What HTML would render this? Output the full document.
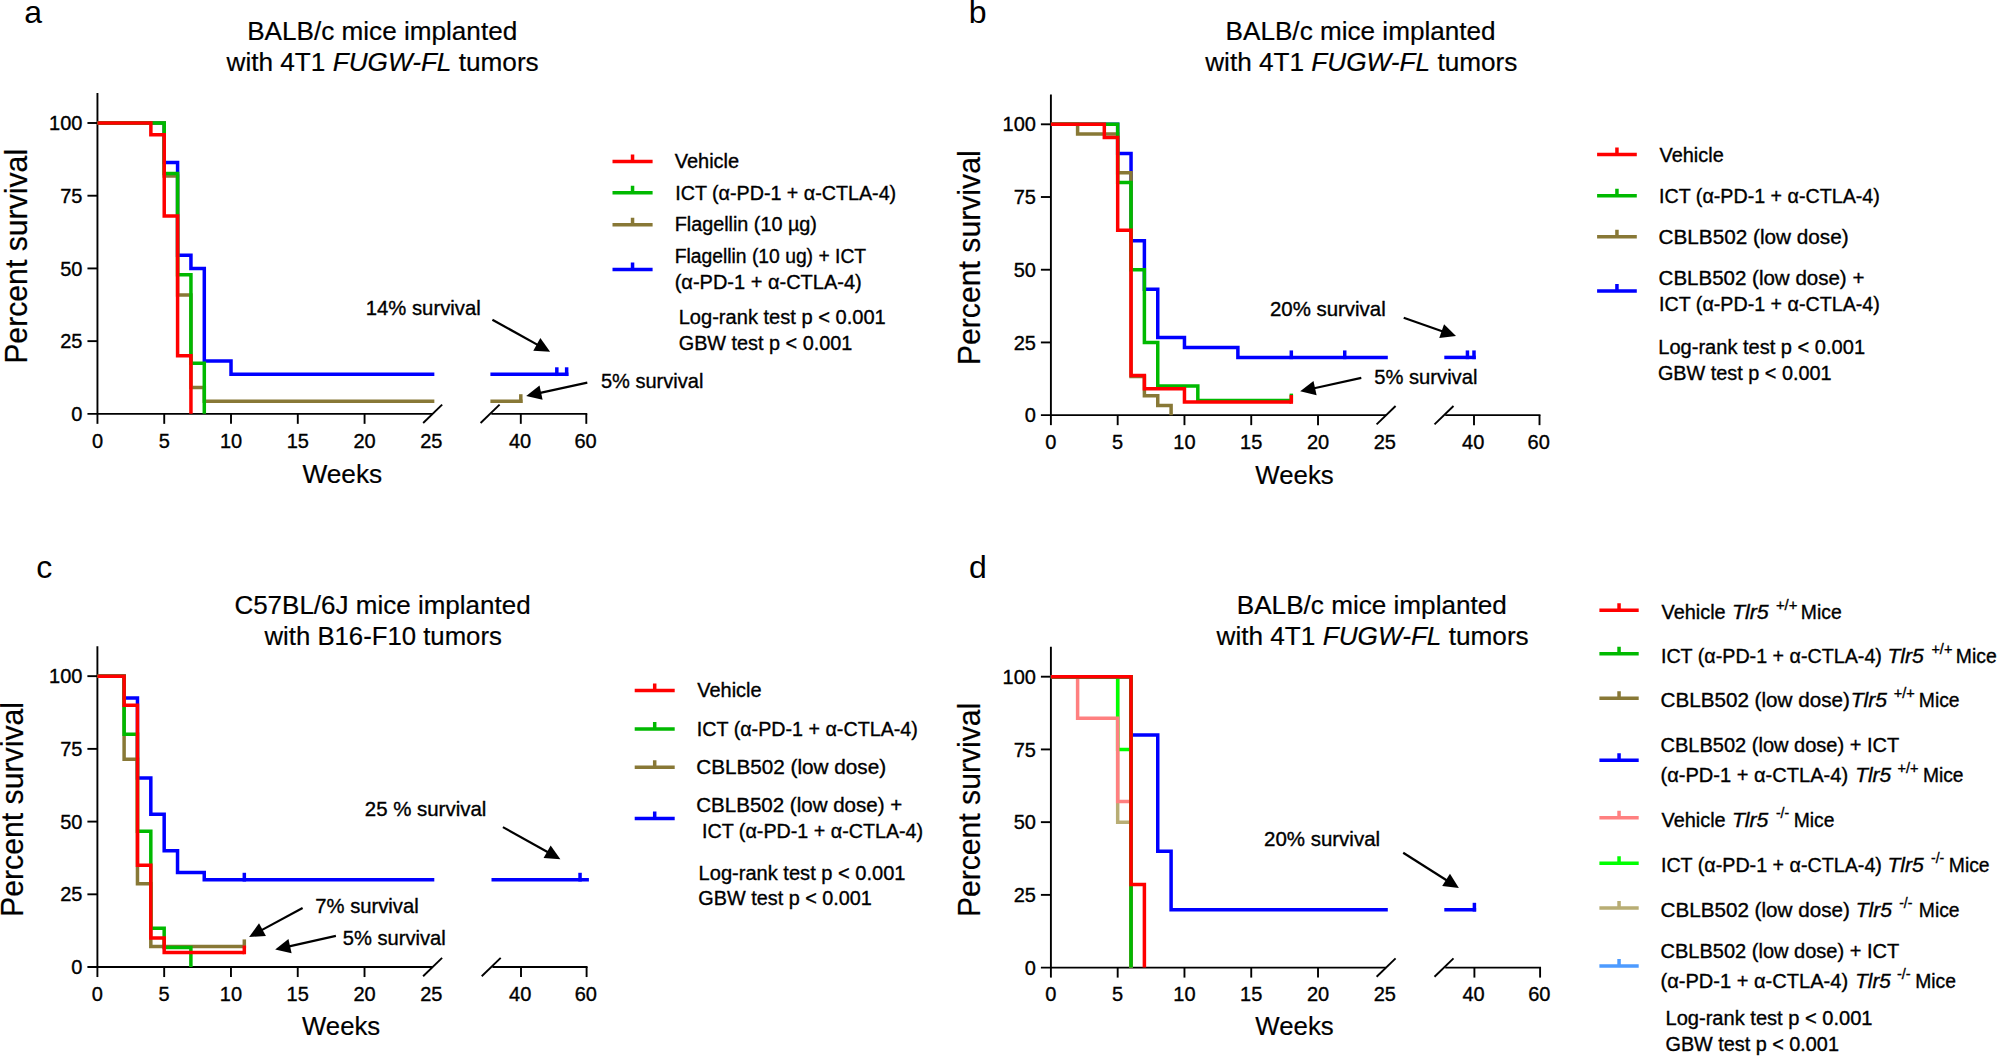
<!DOCTYPE html>
<html lang="en">
<head>
<meta charset="utf-8">
<title>Survival curves</title>
<style>
html,body{margin:0;padding:0;background:#fff;}
body{width:1997px;height:1057px;overflow:hidden;}
svg{display:block;font-family:"Liberation Sans",sans-serif;fill:#000;}
text{stroke:#000;stroke-width:0.35px;}
.tt,.xl,.yl{stroke-width:0.2px;}
.pl{stroke-width:0;}
.ax{stroke:#000;stroke-width:1.9;fill:none;stroke-linecap:butt;}
.cv{stroke-width:3.5;fill:none;stroke-linejoin:miter;stroke-linecap:butt;}
.tk{font-size:20px;}
.tt{font-size:25.9px;}
.xl{font-size:26.4px;}
.yl{font-size:32px;}
.pl{font-size:32px;}
.an{font-size:20.3px;}
.lg{font-size:20px;}
.sup{font-size:14.5px;}
.it{font-style:italic;}
</style>
</head>
<body>
<svg width="1997" height="1057" viewBox="0 0 1997 1057">
<rect x="0" y="0" width="1997" height="1057" fill="#fff"/>
<path d="M97.45 93.11V413.85" class="ax"/>
<path d="M87.45 413.85H432.65" class="ax"/>
<path d="M491.3 413.85H587.25" class="ax"/>
<path d="M87.45 341.14H97.45" class="ax"/>
<path d="M87.45 268.43H97.45" class="ax"/>
<path d="M87.45 195.71H97.45" class="ax"/>
<path d="M87.45 123H97.45" class="ax"/>
<text x="82.45" y="420.95" class="tk" text-anchor="end">0</text>
<text x="82.45" y="348.24" class="tk" text-anchor="end">25</text>
<text x="82.45" y="275.53" class="tk" text-anchor="end">50</text>
<text x="82.45" y="202.81" class="tk" text-anchor="end">75</text>
<text x="82.45" y="130.1" class="tk" text-anchor="end">100</text>
<path d="M97.45 413.85v10" class="ax"/>
<path d="M164.23 413.85v10" class="ax"/>
<path d="M231.01 413.85v10" class="ax"/>
<path d="M297.79 413.85v10" class="ax"/>
<path d="M364.57 413.85v10" class="ax"/>
<text x="97.45" y="447.65" class="tk" text-anchor="middle">0</text>
<text x="164.23" y="447.65" class="tk" text-anchor="middle">5</text>
<text x="231.01" y="447.65" class="tk" text-anchor="middle">10</text>
<text x="297.79" y="447.65" class="tk" text-anchor="middle">15</text>
<text x="364.57" y="447.65" class="tk" text-anchor="middle">20</text>
<text x="431.35" y="447.65" class="tk" text-anchor="middle">25</text>
<path d="M520.8 413.85v10" class="ax"/>
<text x="520" y="447.65" class="tk" text-anchor="middle">40</text>
<path d="M586.3 413.85v10" class="ax"/>
<text x="585.5" y="447.65" class="tk" text-anchor="middle">60</text>
<path d="M423.15 423.05L442.15 404.65" class="ax"/>
<path d="M480.6 423.05L499.6 404.65" class="ax"/>
<path d="M97.45 123H164.23V162.56H177.59V255.34H190.94V268.43H204.3V360.92H231.01V374.29H434.35" stroke="#0000ff" class="cv"/>
<path d="M490.4 374.29H568.4" stroke="#0000ff" class="cv"/>
<path d="M556.82 376.04v-8.75" stroke="#0000ff" class="cv"/>
<path d="M566.65 376.04v-8.75" stroke="#0000ff" class="cv"/>
<path d="M97.45 123H164.23V175.93H177.59V294.89H190.94V387.38H204.3V401.2H434.35" stroke="#887836" class="cv"/>
<path d="M490.4 401.2H522.55" stroke="#887836" class="cv"/>
<path d="M520.8 402.95v-8.75" stroke="#887836" class="cv"/>
<path d="M97.45 123H164.23V173.61H177.59V274.82H190.94V363.24H204.3V413.85" stroke="#00b900" class="cv"/>
<path d="M97.45 123H150.87V134.63H164.23V216.07H177.59V355.68H190.94V413.85" stroke="#ff0000" class="cv"/>
<text x="24.3" y="22.6" class="pl">a</text>
<text x="247.18" y="39.9" class="tt" textLength="270.03" lengthAdjust="spacingAndGlyphs">BALB/c mice implanted</text>
<text x="226.5" y="70.8" class="tt" textLength="312.2" lengthAdjust="spacingAndGlyphs">with 4T1 <tspan class="it">FUGW-FL</tspan> tumors</text>
<text transform="translate(26.5 363.79) rotate(-90)" class="yl" textLength="214.88" lengthAdjust="spacingAndGlyphs">Percent survival</text>
<text x="302.4" y="482.8" class="xl" textLength="79.79" lengthAdjust="spacingAndGlyphs">Weeks</text>
<text x="365.8" y="315.3" class="an" textLength="114.9" lengthAdjust="spacingAndGlyphs">14% survival</text>
<text x="600.9" y="388.3" class="an" textLength="102.5" lengthAdjust="spacingAndGlyphs">5% survival</text>
<path d="M492.4 319.7L538.56 345.38" stroke="#000" stroke-width="2.2" fill="none"/>
<path d="M550.1 351.8L533.29 350.75L540.34 338.07Z" fill="#000"/>
<path d="M587.3 382.7L539.1 393.11" stroke="#000" stroke-width="2.2" fill="none"/>
<path d="M526.2 395.9L539.53 385.6L542.59 399.78Z" fill="#000"/>
<path d="M612.5 161.5H652.6M632.55 163.25v-8.75" stroke="#ff0000" class="cv"/>
<path d="M612.5 192.7H652.6M632.55 194.45v-8.75" stroke="#00b900" class="cv"/>
<path d="M612.5 224.7H652.6M632.55 226.45v-8.75" stroke="#887836" class="cv"/>
<path d="M612.5 269.4H652.6M632.55 271.15v-8.75" stroke="#0000ff" class="cv"/>
<text x="674.7" y="168.1" class="lg" textLength="64.42" lengthAdjust="spacingAndGlyphs">Vehicle</text>
<text x="675.22" y="199.6" class="lg" textLength="220.93" lengthAdjust="spacingAndGlyphs">ICT (α-PD-1 + α-CTLA-4)</text>
<text x="674.71" y="231.3" class="lg" textLength="142.24" lengthAdjust="spacingAndGlyphs">Flagellin (10 µg)</text>
<text x="674.74" y="262.9" class="lg" textLength="191.37" lengthAdjust="spacingAndGlyphs">Flagellin (10 ug) + ICT</text>
<text x="674.7" y="288.6" class="lg" textLength="187.06" lengthAdjust="spacingAndGlyphs">(α-PD-1 + α-CTLA-4)</text>
<text x="678.7" y="324" class="lg" textLength="207.03" lengthAdjust="spacingAndGlyphs">Log-rank test p &lt; 0.001</text>
<text x="678.71" y="349.8" class="lg" textLength="173.61" lengthAdjust="spacingAndGlyphs">GBW test p &lt; 0.001</text>
<path d="M1050.9 94.42V415.15" class="ax"/>
<path d="M1040.9 415.15H1386.1" class="ax"/>
<path d="M1445.2 415.15H1540.45" class="ax"/>
<path d="M1040.9 342.44H1050.9" class="ax"/>
<path d="M1040.9 269.73H1050.9" class="ax"/>
<path d="M1040.9 197.01H1050.9" class="ax"/>
<path d="M1040.9 124.3H1050.9" class="ax"/>
<text x="1035.9" y="422.25" class="tk" text-anchor="end">0</text>
<text x="1035.9" y="349.54" class="tk" text-anchor="end">25</text>
<text x="1035.9" y="276.83" class="tk" text-anchor="end">50</text>
<text x="1035.9" y="204.11" class="tk" text-anchor="end">75</text>
<text x="1035.9" y="131.4" class="tk" text-anchor="end">100</text>
<path d="M1050.9 415.15v10" class="ax"/>
<path d="M1117.68 415.15v10" class="ax"/>
<path d="M1184.46 415.15v10" class="ax"/>
<path d="M1251.24 415.15v10" class="ax"/>
<path d="M1318.02 415.15v10" class="ax"/>
<text x="1050.9" y="448.95" class="tk" text-anchor="middle">0</text>
<text x="1117.68" y="448.95" class="tk" text-anchor="middle">5</text>
<text x="1184.46" y="448.95" class="tk" text-anchor="middle">10</text>
<text x="1251.24" y="448.95" class="tk" text-anchor="middle">15</text>
<text x="1318.02" y="448.95" class="tk" text-anchor="middle">20</text>
<text x="1384.8" y="448.95" class="tk" text-anchor="middle">25</text>
<path d="M1474 415.15v10" class="ax"/>
<text x="1473.2" y="448.95" class="tk" text-anchor="middle">40</text>
<path d="M1539.5 415.15v10" class="ax"/>
<text x="1538.7" y="448.95" class="tk" text-anchor="middle">60</text>
<path d="M1376.6 424.35L1395.6 405.95" class="ax"/>
<path d="M1434.5 424.35L1453.5 405.95" class="ax"/>
<path d="M1050.9 124.3H1117.68V153.38H1131.04V240.64H1144.39V289.21H1157.75V337.49H1184.46V347.38H1237.88V357.42H1387.8" stroke="#0000ff" class="cv"/>
<path d="M1291.31 359.17v-8.75" stroke="#0000ff" class="cv"/>
<path d="M1344.73 359.17v-8.75" stroke="#0000ff" class="cv"/>
<path d="M1444.3 357.42H1475.75" stroke="#0000ff" class="cv"/>
<path d="M1467.45 359.17v-8.75" stroke="#0000ff" class="cv"/>
<path d="M1474 359.17v-8.75" stroke="#0000ff" class="cv"/>
<path d="M1050.9 124.3H1077.61V133.9H1117.68V172.87H1131.04V376.47H1144.39V395.66H1157.75V405.55H1171.1V415.15" stroke="#887836" class="cv"/>
<path d="M1050.9 124.3H1117.68V182.47H1131.04V269.73H1144.39V342.44H1157.75V386.06H1197.82V400.61H1291.31" stroke="#00b900" class="cv"/>
<path d="M1291.31 402.36v-8.75" stroke="#00b900" class="cv"/>
<path d="M1050.9 124.3H1104.32V137.39H1117.68V230.17H1131.04V375.59H1144.39V388.68H1184.46V402.06H1291.31" stroke="#ff0000" class="cv"/>
<path d="M1291.31 403.81v-8.75" stroke="#ff0000" class="cv"/>
<text x="968.8" y="22.6" class="pl">b</text>
<text x="1225.58" y="39.9" class="tt" textLength="270.03" lengthAdjust="spacingAndGlyphs">BALB/c mice implanted</text>
<text x="1205.2" y="71" class="tt" textLength="312.2" lengthAdjust="spacingAndGlyphs">with 4T1 <tspan class="it">FUGW-FL</tspan> tumors</text>
<text transform="translate(980.3 365.19) rotate(-90)" class="yl" textLength="214.88" lengthAdjust="spacingAndGlyphs">Percent survival</text>
<text x="1255.3" y="484.2" class="xl" textLength="78.39" lengthAdjust="spacingAndGlyphs">Weeks</text>
<text x="1269.99" y="316.2" class="an" textLength="115.72" lengthAdjust="spacingAndGlyphs">20% survival</text>
<text x="1374.3" y="383.6" class="an" textLength="103.1" lengthAdjust="spacingAndGlyphs">5% survival</text>
<path d="M1403.7 317.8L1443.54 331.74" stroke="#000" stroke-width="2.2" fill="none"/>
<path d="M1456 336.1L1439.26 337.92L1444.05 324.24Z" fill="#000"/>
<path d="M1361.3 377.9L1313.09 388.47" stroke="#000" stroke-width="2.2" fill="none"/>
<path d="M1300.2 391.3L1313.49 380.96L1316.6 395.13Z" fill="#000"/>
<path d="M1597.1 154.4H1636.8M1616.95 156.15v-8.75" stroke="#ff0000" class="cv"/>
<path d="M1597.1 195.8H1636.8M1616.95 197.55v-8.75" stroke="#00b900" class="cv"/>
<path d="M1597.1 236.8H1636.8M1616.95 238.55v-8.75" stroke="#887836" class="cv"/>
<path d="M1597.1 291.1H1636.8M1616.95 292.85v-8.75" stroke="#0000ff" class="cv"/>
<text x="1659.6" y="161.8" class="lg" textLength="64.12" lengthAdjust="spacingAndGlyphs">Vehicle</text>
<text x="1659.02" y="203.1" class="lg" textLength="220.83" lengthAdjust="spacingAndGlyphs">ICT (α-PD-1 + α-CTLA-4)</text>
<text x="1658.56" y="244.2" class="lg" textLength="190.02" lengthAdjust="spacingAndGlyphs">CBLB502 (low dose)</text>
<text x="1658.57" y="285" class="lg" textLength="205.82" lengthAdjust="spacingAndGlyphs">CBLB502 (low dose) +</text>
<text x="1659.02" y="311.4" class="lg" textLength="220.83" lengthAdjust="spacingAndGlyphs">ICT (α-PD-1 + α-CTLA-4)</text>
<text x="1658.3" y="354.2" class="lg" textLength="206.73" lengthAdjust="spacingAndGlyphs">Log-rank test p &lt; 0.001</text>
<text x="1657.91" y="379.8" class="lg" textLength="173.61" lengthAdjust="spacingAndGlyphs">GBW test p &lt; 0.001</text>
<path d="M97.4 646.26V967.05" class="ax"/>
<path d="M87.4 967.05H432.6" class="ax"/>
<path d="M492.4 967.05H587.55" class="ax"/>
<path d="M87.4 894.32H97.4" class="ax"/>
<path d="M87.4 821.6H97.4" class="ax"/>
<path d="M87.4 748.88H97.4" class="ax"/>
<path d="M87.4 676.15H97.4" class="ax"/>
<text x="82.4" y="974.15" class="tk" text-anchor="end">0</text>
<text x="82.4" y="901.42" class="tk" text-anchor="end">25</text>
<text x="82.4" y="828.7" class="tk" text-anchor="end">50</text>
<text x="82.4" y="755.98" class="tk" text-anchor="end">75</text>
<text x="82.4" y="683.25" class="tk" text-anchor="end">100</text>
<path d="M97.4 967.05v10" class="ax"/>
<path d="M164.18 967.05v10" class="ax"/>
<path d="M230.96 967.05v10" class="ax"/>
<path d="M297.74 967.05v10" class="ax"/>
<path d="M364.52 967.05v10" class="ax"/>
<text x="97.4" y="1000.85" class="tk" text-anchor="middle">0</text>
<text x="164.18" y="1000.85" class="tk" text-anchor="middle">5</text>
<text x="230.96" y="1000.85" class="tk" text-anchor="middle">10</text>
<text x="297.74" y="1000.85" class="tk" text-anchor="middle">15</text>
<text x="364.52" y="1000.85" class="tk" text-anchor="middle">20</text>
<text x="431.3" y="1000.85" class="tk" text-anchor="middle">25</text>
<path d="M521 967.05v10" class="ax"/>
<text x="520.2" y="1000.85" class="tk" text-anchor="middle">40</text>
<path d="M586.6 967.05v10" class="ax"/>
<text x="585.8" y="1000.85" class="tk" text-anchor="middle">60</text>
<path d="M423.1 976.25L442.1 957.85" class="ax"/>
<path d="M481.7 976.25L500.7 957.85" class="ax"/>
<path d="M97.4 676.15H124.11V697.97H137.47V777.96H150.82V814.33H164.18V850.69H177.54V872.51H204.25V879.78H434.3" stroke="#0000ff" class="cv"/>
<path d="M244.32 881.53v-8.75" stroke="#0000ff" class="cv"/>
<path d="M491.5 879.78H588.9" stroke="#0000ff" class="cv"/>
<path d="M580.04 881.53v-8.75" stroke="#0000ff" class="cv"/>
<path d="M97.4 676.15H124.11V759.35H137.47V883.85H150.82V946.4H244.32" stroke="#887836" class="cv"/>
<path d="M244.32 948.15v-8.75" stroke="#887836" class="cv"/>
<path d="M97.4 676.15H124.11V734.33H137.47V831.2H150.82V928.36H164.18V947.56H190.89V967.05" stroke="#00b900" class="cv"/>
<path d="M97.4 676.15H124.11V705.24H137.47V865.23H150.82V937.96H164.18V952.5H244.32" stroke="#ff0000" class="cv"/>
<path d="M244.32 954.25v-8.75" stroke="#ff0000" class="cv"/>
<text x="36.3" y="578.3" class="pl">c</text>
<text x="234.4" y="614.3" class="tt" textLength="296.21" lengthAdjust="spacingAndGlyphs">C57BL/6J mice implanted</text>
<text x="264.49" y="644.9" class="tt" textLength="237.35" lengthAdjust="spacingAndGlyphs">with B16-F10 tumors</text>
<text transform="translate(23 916.89) rotate(-90)" class="yl" textLength="214.88" lengthAdjust="spacingAndGlyphs">Percent survival</text>
<text x="302" y="1035.1" class="xl" textLength="78.19" lengthAdjust="spacingAndGlyphs">Weeks</text>
<text x="364.79" y="815.7" class="an" textLength="121.52" lengthAdjust="spacingAndGlyphs">25 % survival</text>
<text x="315.3" y="913.4" class="an" textLength="103.4" lengthAdjust="spacingAndGlyphs">7% survival</text>
<text x="342.8" y="944.9" class="an" textLength="103" lengthAdjust="spacingAndGlyphs">5% survival</text>
<path d="M502.9 827.1L548.87 852.77" stroke="#000" stroke-width="2.2" fill="none"/>
<path d="M560.4 859.2L543.59 858.12L550.66 845.46Z" fill="#000"/>
<path d="M302.6 908L260.71 930.63" stroke="#000" stroke-width="2.2" fill="none"/>
<path d="M249.1 936.9L259.03 923.3L265.92 936.05Z" fill="#000"/>
<path d="M335.9 935.9L288.08 946.61" stroke="#000" stroke-width="2.2" fill="none"/>
<path d="M275.2 949.5L288.45 939.1L291.62 953.25Z" fill="#000"/>
<path d="M634.7 690.5H674.7M654.7 692.25v-8.75" stroke="#ff0000" class="cv"/>
<path d="M634.7 728.9H674.7M654.7 730.65v-8.75" stroke="#00b900" class="cv"/>
<path d="M634.7 767.3H674.7M654.7 769.05v-8.75" stroke="#887836" class="cv"/>
<path d="M634.7 818.4H674.7M654.7 820.15v-8.75" stroke="#0000ff" class="cv"/>
<text x="697.3" y="697.3" class="lg" textLength="64.32" lengthAdjust="spacingAndGlyphs">Vehicle</text>
<text x="696.82" y="736.1" class="lg" textLength="221.03" lengthAdjust="spacingAndGlyphs">ICT (α-PD-1 + α-CTLA-4)</text>
<text x="696.27" y="774.1" class="lg" textLength="189.82" lengthAdjust="spacingAndGlyphs">CBLB502 (low dose)</text>
<text x="696.27" y="812.2" class="lg" textLength="205.92" lengthAdjust="spacingAndGlyphs">CBLB502 (low dose) +</text>
<text x="702.02" y="838.2" class="lg" textLength="221.13" lengthAdjust="spacingAndGlyphs">ICT (α-PD-1 + α-CTLA-4)</text>
<text x="698.6" y="879.7" class="lg" textLength="206.93" lengthAdjust="spacingAndGlyphs">Log-rank test p &lt; 0.001</text>
<text x="698.31" y="905.3" class="lg" textLength="173.61" lengthAdjust="spacingAndGlyphs">GBW test p &lt; 0.001</text>
<path d="M1050.9 646.81V967.6" class="ax"/>
<path d="M1040.9 967.6H1386.1" class="ax"/>
<path d="M1445.2 967.6H1541.05" class="ax"/>
<path d="M1040.9 894.88H1050.9" class="ax"/>
<path d="M1040.9 822.15H1050.9" class="ax"/>
<path d="M1040.9 749.42H1050.9" class="ax"/>
<path d="M1040.9 676.7H1050.9" class="ax"/>
<text x="1035.9" y="974.7" class="tk" text-anchor="end">0</text>
<text x="1035.9" y="901.98" class="tk" text-anchor="end">25</text>
<text x="1035.9" y="829.25" class="tk" text-anchor="end">50</text>
<text x="1035.9" y="756.52" class="tk" text-anchor="end">75</text>
<text x="1035.9" y="683.8" class="tk" text-anchor="end">100</text>
<path d="M1050.9 967.6v10" class="ax"/>
<path d="M1117.68 967.6v10" class="ax"/>
<path d="M1184.46 967.6v10" class="ax"/>
<path d="M1251.24 967.6v10" class="ax"/>
<path d="M1318.02 967.6v10" class="ax"/>
<text x="1050.9" y="1001.4" class="tk" text-anchor="middle">0</text>
<text x="1117.68" y="1001.4" class="tk" text-anchor="middle">5</text>
<text x="1184.46" y="1001.4" class="tk" text-anchor="middle">10</text>
<text x="1251.24" y="1001.4" class="tk" text-anchor="middle">15</text>
<text x="1318.02" y="1001.4" class="tk" text-anchor="middle">20</text>
<text x="1384.8" y="1001.4" class="tk" text-anchor="middle">25</text>
<path d="M1474.4 967.6v10" class="ax"/>
<text x="1473.6" y="1001.4" class="tk" text-anchor="middle">40</text>
<path d="M1540.1 967.6v10" class="ax"/>
<text x="1539.3" y="1001.4" class="tk" text-anchor="middle">60</text>
<path d="M1376.6 976.8L1395.6 958.4" class="ax"/>
<path d="M1434.5 976.8L1453.5 958.4" class="ax"/>
<path d="M1050.9 676.7H1131.04V967.6" stroke="#4d9bff" class="cv"/>
<path d="M1050.9 676.7H1117.68V822.15H1131.04V967.6" stroke="#b8ad74" class="cv"/>
<path d="M1050.9 676.7H1117.68V749.42H1131.04V967.6" stroke="#00ff00" class="cv"/>
<path d="M1050.9 676.7H1077.61V718.3H1117.68V801.5H1131.04V967.6" stroke="#ff8080" class="cv"/>
<path d="M1050.9 676.7H1131.04V734.88H1157.75V851.24H1171.1V909.8H1387.8" stroke="#0000ff" class="cv"/>
<path d="M1444.3 909.8H1476.15" stroke="#0000ff" class="cv"/>
<path d="M1474.4 911.55v-8.75" stroke="#0000ff" class="cv"/>
<path d="M1050.9 676.7H1131.04V967.6" stroke="#887836" class="cv"/>
<path d="M1050.9 676.7H1131.04V967.6" stroke="#00b900" class="cv"/>
<path d="M1050.9 676.7H1131.04V884.4H1144.39V967.6" stroke="#ff0000" class="cv"/>
<text x="969" y="578.3" class="pl">d</text>
<text x="1236.78" y="614.4" class="tt" textLength="270.03" lengthAdjust="spacingAndGlyphs">BALB/c mice implanted</text>
<text x="1216.5" y="645" class="tt" textLength="312.2" lengthAdjust="spacingAndGlyphs">with 4T1 <tspan class="it">FUGW-FL</tspan> tumors</text>
<text transform="translate(980.3 917.08) rotate(-90)" class="yl" textLength="214.27" lengthAdjust="spacingAndGlyphs">Percent survival</text>
<text x="1255.3" y="1035.1" class="xl" textLength="78.39" lengthAdjust="spacingAndGlyphs">Weeks</text>
<text x="1263.99" y="845.5" class="an" textLength="116.12" lengthAdjust="spacingAndGlyphs">20% survival</text>
<path d="M1403.2 852.7L1447.76 881.02" stroke="#000" stroke-width="2.2" fill="none"/>
<path d="M1458.9 888.1L1442.18 886.07L1449.96 873.83Z" fill="#000"/>
<path d="M1599.4 610.3H1638.7M1619.05 612.05v-8.75" stroke="#ff0000" class="cv"/>
<path d="M1599.4 653.8H1638.7M1619.05 655.55v-8.75" stroke="#00b900" class="cv"/>
<path d="M1599.4 698.3H1638.7M1619.05 700.05v-8.75" stroke="#887836" class="cv"/>
<path d="M1599.4 760.2H1638.7M1619.05 761.95v-8.75" stroke="#0000ff" class="cv"/>
<path d="M1599.4 817.7H1638.7M1619.05 819.45v-8.75" stroke="#ff8080" class="cv"/>
<path d="M1599.4 863.2H1638.7M1619.05 864.95v-8.75" stroke="#00ff00" class="cv"/>
<path d="M1599.4 908H1638.7M1619.05 909.75v-8.75" stroke="#b8ad74" class="cv"/>
<path d="M1599.4 966.1H1638.7M1619.05 967.85v-8.75" stroke="#4d9bff" class="cv"/>
<text x="1661.5" y="619.2" class="lg" textLength="64.12" lengthAdjust="spacingAndGlyphs">Vehicle</text>
<text x="1731.93" y="619.2" class="lg it" textLength="36.73" lengthAdjust="spacingAndGlyphs">Tlr5</text>
<text x="1775.9" y="610" class="sup" textLength="21.58" lengthAdjust="spacingAndGlyphs">+/+</text>
<text x="1800.83" y="619.2" class="lg" textLength="40.89" lengthAdjust="spacingAndGlyphs">Mice</text>
<text x="1660.92" y="662.8" class="lg" textLength="221.03" lengthAdjust="spacingAndGlyphs">ICT (α-PD-1 + α-CTLA-4)</text>
<text x="1887.45" y="662.8" class="lg it" textLength="36.23" lengthAdjust="spacingAndGlyphs">Tlr5</text>
<text x="1931.4" y="653.6" class="sup" textLength="20.97" lengthAdjust="spacingAndGlyphs">+/+</text>
<text x="1955.83" y="662.8" class="lg" textLength="40.89" lengthAdjust="spacingAndGlyphs">Mice</text>
<text x="1660.47" y="707.1" class="lg" textLength="189.41" lengthAdjust="spacingAndGlyphs">CBLB502 (low dose)</text>
<text x="1850.75" y="707.1" class="lg it" textLength="36.23" lengthAdjust="spacingAndGlyphs">Tlr5</text>
<text x="1893.8" y="697.9" class="sup" textLength="21.07" lengthAdjust="spacingAndGlyphs">+/+</text>
<text x="1918.83" y="707.1" class="lg" textLength="40.78" lengthAdjust="spacingAndGlyphs">Mice</text>
<text x="1660.5" y="752" class="lg" textLength="238.72" lengthAdjust="spacingAndGlyphs">CBLB502 (low dose) + ICT</text>
<text x="1660.5" y="782.2" class="lg" textLength="187.56" lengthAdjust="spacingAndGlyphs">(α-PD-1 + α-CTLA-4)</text>
<text x="1855.26" y="782.2" class="lg it" textLength="35.83" lengthAdjust="spacingAndGlyphs">Tlr5</text>
<text x="1897.4" y="773" class="sup" textLength="21.07" lengthAdjust="spacingAndGlyphs">+/+</text>
<text x="1922.94" y="782.2" class="lg" textLength="40.58" lengthAdjust="spacingAndGlyphs">Mice</text>
<text x="1661.5" y="826.8" class="lg" textLength="64.12" lengthAdjust="spacingAndGlyphs">Vehicle</text>
<text x="1731.94" y="826.8" class="lg it" textLength="36.43" lengthAdjust="spacingAndGlyphs">Tlr5</text>
<text x="1775.9" y="817.6" class="sup" textLength="13.23" lengthAdjust="spacingAndGlyphs">-/-</text>
<text x="1793.63" y="826.8" class="lg" textLength="40.78" lengthAdjust="spacingAndGlyphs">Mice</text>
<text x="1660.92" y="871.8" class="lg" textLength="221.03" lengthAdjust="spacingAndGlyphs">ICT (α-PD-1 + α-CTLA-4)</text>
<text x="1887.45" y="871.8" class="lg it" textLength="36.23" lengthAdjust="spacingAndGlyphs">Tlr5</text>
<text x="1931" y="862.6" class="sup" textLength="13.23" lengthAdjust="spacingAndGlyphs">-/-</text>
<text x="1948.83" y="871.8" class="lg" textLength="40.78" lengthAdjust="spacingAndGlyphs">Mice</text>
<text x="1660.47" y="916.8" class="lg" textLength="189.41" lengthAdjust="spacingAndGlyphs">CBLB502 (low dose)</text>
<text x="1855.65" y="916.8" class="lg it" textLength="36.23" lengthAdjust="spacingAndGlyphs">Tlr5</text>
<text x="1899.2" y="907.6" class="sup" textLength="13.23" lengthAdjust="spacingAndGlyphs">-/-</text>
<text x="1918.83" y="916.8" class="lg" textLength="40.78" lengthAdjust="spacingAndGlyphs">Mice</text>
<text x="1660.5" y="958" class="lg" textLength="238.72" lengthAdjust="spacingAndGlyphs">CBLB502 (low dose) + ICT</text>
<text x="1660.5" y="988" class="lg" textLength="187.56" lengthAdjust="spacingAndGlyphs">(α-PD-1 + α-CTLA-4)</text>
<text x="1855.27" y="988" class="lg it" textLength="35.43" lengthAdjust="spacingAndGlyphs">Tlr5</text>
<text x="1896.9" y="978.8" class="sup" textLength="13.73" lengthAdjust="spacingAndGlyphs">-/-</text>
<text x="1915.23" y="988" class="lg" textLength="40.78" lengthAdjust="spacingAndGlyphs">Mice</text>
<text x="1665.5" y="1025" class="lg" textLength="207.03" lengthAdjust="spacingAndGlyphs">Log-rank test p &lt; 0.001</text>
<text x="1665.51" y="1050.9" class="lg" textLength="173.41" lengthAdjust="spacingAndGlyphs">GBW test p &lt; 0.001</text>
</svg>
</body>
</html>
